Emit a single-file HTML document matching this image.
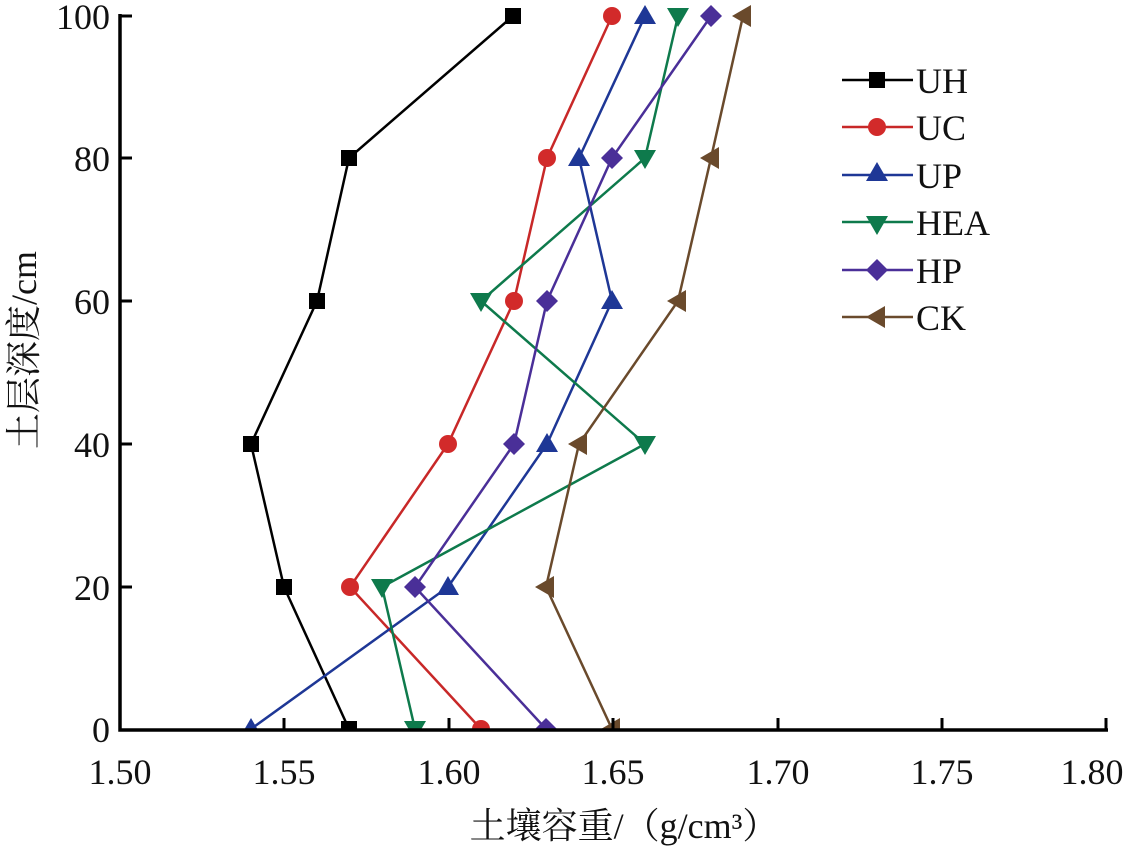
<!DOCTYPE html>
<html><head><meta charset="utf-8"><style>body{margin:0;background:#fff}</style></head><body>
<svg width="1134" height="847" xmlns="http://www.w3.org/2000/svg" font-family="Liberation Serif, Noto Serif CJK SC, serif">
<defs>
<g id="sq"><rect x="-8" y="-8" width="16" height="16"/></g>
<g id="ci"><circle r="9"/></g>
<g id="tu"><polygon points="0,-11 11,8 -11,8"/></g>
<g id="td"><polygon points="0,11 11,-8 -11,-8"/></g>
<g id="di"><polygon points="0,-11 11,0 0,11 -11,0"/></g>
<g id="tl"><polygon points="-11,0 8,-11 8,11"/></g>
</defs>
<g fill="none" stroke-width="2.5">
<polyline stroke="#000" points="349,729 284,587 251,444 317,301 349,158 513,16"/>
<polyline stroke="#c82828" points="481,729 350,587 448,444 514,301 547,158 612,16"/>
<polyline stroke="#1e3796" points="251,729 448,587 547,444 612,301 579,158 645,16"/>
<polyline stroke="#0e7a4c" points="415,729 382,587 645,444 481,301 645,158 678,16"/>
<polyline stroke="#4a2f98" points="546,729 415,587 514,444 547,301 612,158 711,16"/>
<polyline stroke="#6a4a2c" points="612,729 546,587 579,444 678,301 711,158 743,16"/>
</g>
<g fill="#000"><use href="#sq" x="349" y="729"/><use href="#sq" x="284" y="587"/><use href="#sq" x="251" y="444"/><use href="#sq" x="317" y="301"/><use href="#sq" x="349" y="158"/><use href="#sq" x="513" y="16"/></g>
<g fill="#d22a2a"><use href="#ci" x="481" y="729"/><use href="#ci" x="350" y="587"/><use href="#ci" x="448" y="444"/><use href="#ci" x="514" y="301"/><use href="#ci" x="547" y="158"/><use href="#ci" x="612" y="16"/></g>
<g fill="#1e3796"><use href="#tu" x="251" y="729"/><use href="#tu" x="448" y="587"/><use href="#tu" x="547" y="444"/><use href="#tu" x="612" y="301"/><use href="#tu" x="579" y="158"/><use href="#tu" x="645" y="16"/></g>
<g fill="#0e7a4c"><use href="#td" x="415" y="729"/><use href="#td" x="382" y="587"/><use href="#td" x="645" y="444"/><use href="#td" x="481" y="301"/><use href="#td" x="645" y="158"/><use href="#td" x="678" y="16"/></g>
<g fill="#4a2f98"><use href="#di" x="546" y="729"/><use href="#di" x="415" y="587"/><use href="#di" x="514" y="444"/><use href="#di" x="547" y="301"/><use href="#di" x="612" y="158"/><use href="#di" x="711" y="16"/></g>
<g fill="#6a4a2c"><use href="#tl" x="612" y="729"/><use href="#tl" x="546" y="587"/><use href="#tl" x="579" y="444"/><use href="#tl" x="678" y="301"/><use href="#tl" x="711" y="158"/><use href="#tl" x="743" y="16"/></g>
<rect x="120" y="729" width="988" height="14" fill="#fff"/>
<g stroke="#000" stroke-width="3.5" fill="none">
<polyline points="120,14 120,730 1108,730"/>
</g>
<g stroke="#000" stroke-width="3">
<line x1="284" y1="730" x2="284" y2="718"/><line x1="449" y1="730" x2="449" y2="718"/><line x1="613" y1="730" x2="613" y2="718"/><line x1="778" y1="730" x2="778" y2="718"/><line x1="942" y1="730" x2="942" y2="718"/><line x1="1106" y1="730" x2="1106" y2="718"/>
<line x1="120" y1="587" x2="132" y2="587"/><line x1="120" y1="444" x2="132" y2="444"/><line x1="120" y1="301" x2="132" y2="301"/><line x1="120" y1="158" x2="132" y2="158"/><line x1="120" y1="16" x2="132" y2="16"/>
</g>
<g font-size="36" text-anchor="end" fill="#111">
<text x="110" y="742">0</text><text x="110" y="600">20</text><text x="110" y="457">40</text><text x="110" y="314">60</text><text x="110" y="171">80</text><text x="110" y="29">100</text>
</g>
<g font-size="36" text-anchor="middle" fill="#111">
<text x="120" y="784">1.50</text><text x="284" y="784">1.55</text><text x="449" y="784">1.60</text><text x="613" y="784">1.65</text><text x="778" y="784">1.70</text><text x="942" y="784">1.75</text><text x="1092" y="784">1.80</text>
</g>
<text x="624" y="838" font-size="36" text-anchor="middle" fill="#111">土壤容重/（g/cm³）</text>
<text transform="translate(36,350) rotate(-90)" font-size="36" text-anchor="middle" fill="#111">土层深度/cm</text>
<g stroke-width="2.5">
<line x1="842" y1="80" x2="913" y2="80" stroke="#000"/><use href="#sq" x="877" y="80" fill="#000"/>
<line x1="842" y1="127" x2="913" y2="127" stroke="#c82828"/><use href="#ci" x="877" y="127" fill="#d22a2a"/>
<line x1="842" y1="175" x2="913" y2="175" stroke="#1e3796"/><use href="#tu" x="877" y="173" fill="#1e3796"/>
<line x1="842" y1="222" x2="913" y2="222" stroke="#0e7a4c"/><use href="#td" x="877" y="224" fill="#0e7a4c"/>
<line x1="842" y1="270" x2="913" y2="270" stroke="#4a2f98"/><use href="#di" x="877" y="270" fill="#4a2f98"/>
<line x1="842" y1="317" x2="913" y2="317" stroke="#6a4a2c"/><use href="#tl" x="877" y="317" fill="#6a4a2c"/>
</g>
<g font-size="36" fill="#111">
<text x="916" y="93">UH</text><text x="916" y="140">UC</text><text x="916" y="188">UP</text><text x="916" y="235">HEA</text><text x="916" y="283">HP</text><text x="916" y="330">CK</text>
</g>
</svg>
</body></html>
